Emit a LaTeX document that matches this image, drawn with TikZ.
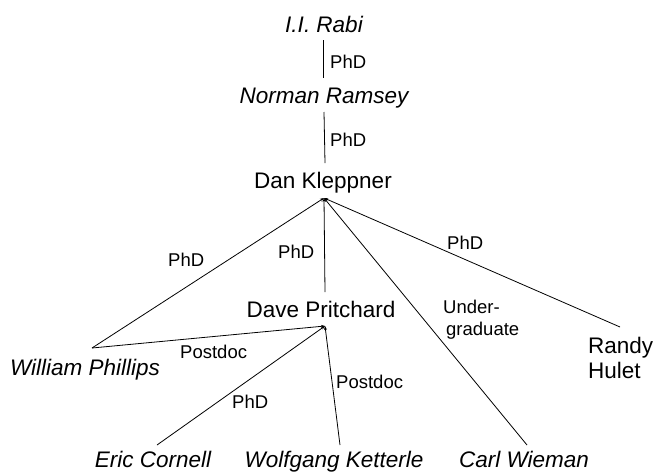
\documentclass[tikz,border=0pt]{standalone}
\usepackage{fontspec}
\setmainfont{Liberation Sans}
\usetikzlibrary{arrows.meta}
\begin{document}
\begin{tikzpicture}[x=1pt,y=-1pt,
  pname/.style={inner sep=0pt,anchor=base,font=\fontsize{22.5}{25}\selectfont},
  piname/.style={pname,font=\fontsize{22.5}{25}\selectfont\itshape},
  plab/.style={inner sep=0pt,anchor=base west,font=\fontsize{18.5}{21}\selectfont},
  conn/.style={line width=0.8pt},
  tipline/.style={conn,-{Stealth[length=4pt,width=3pt]}}]
\useasboundingbox (0,0) rectangle (653,472);
% names
\node[piname] (rabi) at (324,32) {I.I. Rabi};
\node[piname] (ramsey) at (324,103) {Norman Ramsey};
\node[pname] (klep) at (323,188) {Dan Kleppner};
\node[pname] (prit) at (321,317) {Dave Pritchard};
\node[piname] (phil) at (85,375) {William Phillips};
\node[piname] (corn) at (153,467) {Eric Cornell};
\node[piname] (kett) at (334,467) {Wolfgang Ketterle};
\node[piname] (wiem) at (524,467) {Carl Wieman};
\node[inner sep=0pt,anchor=base west,align=left,font=\fontsize{22.5}{25}\selectfont] (hulet) at (588,378) {Randy\\Hulet};
% connector end points
\coordinate (rabiB) at (323,40);
\coordinate (ramT) at (323,78);
\coordinate (ramB) at (324,112);
\coordinate (klT) at (325,163);
\coordinate (klA) at (324,198);
\coordinate (prT) at (325,292);
\coordinate (prA) at (325,326);
\coordinate (phE) at (92,348);
\coordinate (huE) at (620,327);
\coordinate (wiE) at (527,445);
\coordinate (coE) at (157,445);
\coordinate (keE) at (340,445);
% connectors
\draw[conn] (rabiB) -- (ramT);
\draw[conn] (ramB) -- (klT);
\draw[tipline] (phE) -- (klA);
\draw[tipline] (prT) -- (klA);
\draw[tipline] (wiE) -- (klA);
\draw[tipline] (huE) -- (klA);
\draw[tipline] (phE) -- (prA);
\draw[tipline] (coE) -- (prA);
\draw[tipline] (keE) -- (prA);
% labels
\node[plab] (l1) at (330,68) {PhD};
\node[plab] (l2) at (330,146) {PhD};
\node[plab] (l3) at (168,266) {PhD};
\node[plab] (l4) at (278,258) {PhD};
\node[plab] (l5) at (447,249) {PhD};
\node[plab] (l6) at (180,358) {Postdoc};
\node[plab] (l7) at (232,408) {PhD};
\node[plab] (l8) at (336,388) {Postdoc};
\node[inner sep=0pt,anchor=base west,align=left,font=\fontsize{18.5}{22}\selectfont] (l9) at (443,335) {Under-\\\hspace*{3pt}graduate};
\end{tikzpicture}
\end{document}
